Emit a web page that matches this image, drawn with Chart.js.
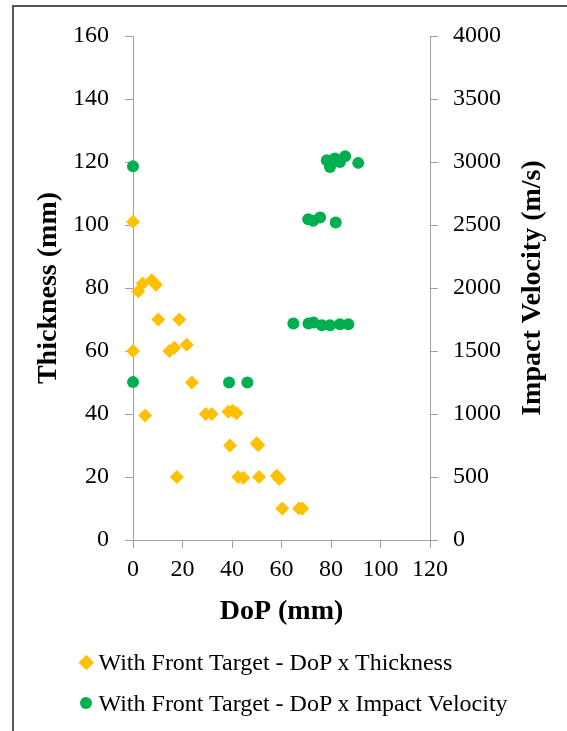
<!DOCTYPE html>
<html>
<head>
<meta charset="utf-8">
<title>DoP vs Thickness and Impact Velocity</title>
<script src="https://cdn.jsdelivr.net/npm/chart.js@4.4.1/dist/chart.umd.min.js"></script>
<style>
  html, body { margin: 0; padding: 0; background: #fff; overflow: hidden; width: 567px; height: 731px; }
  #frame { position: absolute; left: 12px; top: 5px; width: 700px; height: 800px; border: 2px solid #555; box-sizing: border-box; }
  #plot { position: absolute; left: 0; top: 0; }
  #legend { position: absolute; left: 78.5px; top: 648px; font-family: 'Liberation Serif', 'Times New Roman', serif; font-size: 24px; color: #000; }
  .row { display: flex; align-items: center; height: 28px; line-height: 28px; white-space: nowrap; }
  .row + .row { margin-top: 13px; }
  .mark { position: relative; flex: none; width: 15px; height: 15px; margin-right: 5px; }
  .mark span { position: absolute; display: block; }
  .mark.rectRot span { width: 10.6px; height: 10.6px; left: 2.2px; top: 2.2px; transform: rotate(45deg); }
  .mark.circle span { width: 12px; height: 12px; left: 1.5px; top: 1.5px; border-radius: 50%; }
</style>
</head>
<body>
<div id="frame"></div>
<canvas id="plot" width="567" height="731"></canvas>
<div id="legend"></div>
<script>
// Series names
const seriesNames = [
  'With Front Target - DoP x Thickness',
  'With Front Target - DoP x Impact Velocity'
];

// Depth of penetration (mm) and target thickness (mm)
const dopThickness = [0, 0, 2.1, 3.9, 4.9, 7.6, 9.3, 10.2, 14.7, 16.7, 17.7, 18.7, 21.7, 23.8, 29.4,
                      31.8, 38.5, 39.2, 40.3, 41.9, 42.5, 44.6, 50.0, 50.6, 50.9, 58.1, 59.1, 60.3, 67.1, 68.4];
const thicknessMm  = [101, 60, 79, 81.4, 39.5, 82.5, 81, 70, 60, 61, 20, 70, 62, 50, 40,
                      40, 40.7, 30, 41, 40.2, 20, 19.8, 30.7, 30.1, 20, 20.4, 19.4, 10, 10, 10];

// Depth of penetration (mm) and impact velocity (m/s)
const dopVelocity    = [0, 0, 38.8, 46.2, 64.8, 70.9, 72.9, 76.3, 79.6, 83.6, 87.0,
                        70.8, 72.8, 75.6, 81.9, 78.3, 79.6, 81.6, 83.6, 85.7, 91.0];
const impactVelocity = [2966, 1253, 1250, 1250, 1719, 1719, 1727, 1705, 1705, 1713, 1713,
                        2546, 2533, 2559, 2520, 3014, 2961, 3027, 3000, 3046, 2993];

// Tick values
const dopTickValues       = [0, 20, 40, 60, 80, 100, 120];
const thicknessTickValues = [0, 20, 40, 60, 80, 100, 120, 140, 160];
const velocityTickValues  = [0, 500, 1000, 1500, 2000, 2500, 3000, 3500, 4000];

const SERIF = "'Liberation Serif', 'Times New Roman', serif";
const GOLD = '#FFC000';
const GREEN = '#00B050';
const AXIS = '#a0a0a0';

const toPoints = (xs, ys) => xs.map((x, i) => ({ x: x, y: ys[i] }));
const fixedTicks = values => scale => { scale.ticks = values.map(v => ({ value: v })); };
const plainLabel = v => String(v);

const tickFont = { family: SERIF, size: 24 };
const titleFont = { family: SERIF, size: 28, weight: 'bold' };

// The right-hand axis title reads bottom-to-top, like the left one
const uprightRightTitle = {
  id: 'uprightRightTitle',
  afterDraw(chart, args, opts) {
    const scale = chart.scales[opts.axis];
    if (!scale) return;
    const ctx = chart.ctx;
    const lineHeight = opts.font.size * 1.2;
    const x = scale.right - lineHeight / 2 - opts.padding;
    const y = (scale.top + scale.bottom) / 2;
    ctx.save();
    ctx.translate(x, y);
    ctx.rotate(-Math.PI / 2);
    ctx.font = `${opts.font.weight} ${opts.font.size}px ${opts.font.family}`;
    ctx.fillStyle = opts.color;
    ctx.textAlign = 'center';
    ctx.textBaseline = 'middle';
    ctx.fillText(opts.text, 0, 0);
    ctx.restore();
  }
};

const chart = new Chart(document.getElementById('plot'), {
  type: 'scatter',
  data: {
    datasets: [
      {
        label: seriesNames[0],
        data: toPoints(dopThickness, thicknessMm),
        yAxisID: 'y',
        pointStyle: 'rectRot',
        pointRadius: 7,
        pointHoverRadius: 7,
        backgroundColor: GOLD,
        borderColor: GOLD,
        borderWidth: 0,
        clip: false
      },
      {
        label: seriesNames[1],
        data: toPoints(dopVelocity, impactVelocity),
        yAxisID: 'y1',
        pointStyle: 'circle',
        pointRadius: 6,
        pointHoverRadius: 6,
        backgroundColor: GREEN,
        borderColor: GREEN,
        borderWidth: 0,
        clip: false
      }
    ]
  },
  options: {
    responsive: false,
    animation: false,
    events: [],
    layout: { padding: { top: 36, bottom: 91, left: 0, right: 0 } },
    plugins: {
      legend: { display: false },
      tooltip: { enabled: false },
      uprightRightTitle: { axis: 'y1', text: 'Impact Velocity (m/s)', font: titleFont, color: '#000', padding: 17 }
    },
    scales: {
      x: {
        type: 'linear',
        min: 0, max: 120,
        afterBuildTicks: fixedTicks(dopTickValues),
        afterFit: s => { s.height = 100; },
        grid: { display: true, drawOnChartArea: false, drawTicks: true, tickLength: 8, color: AXIS },
        border: { display: true, color: AXIS, width: 1 },
        ticks: { font: tickFont, color: '#000', padding: 7, maxRotation: 0, autoSkip: false, callback: plainLabel },
        title: { display: true, text: 'DoP (mm)', font: titleFont, color: '#000', padding: { top: 0, bottom: 11 } }
      },
      y: {
        type: 'linear',
        position: 'left',
        min: 0, max: 160,
        afterBuildTicks: fixedTicks(thicknessTickValues),
        afterFit: s => { s.width = 133; },
        grid: { display: true, drawOnChartArea: false, drawTicks: true, tickLength: 8, color: AXIS },
        border: { display: true, color: AXIS, width: 1 },
        ticks: { font: tickFont, color: '#000', padding: 16, autoSkip: false, callback: plainLabel },
        title: { display: true, text: 'Thickness (mm)', font: titleFont, color: '#000', padding: { top: 32, bottom: 0 } }
      },
      y1: {
        type: 'linear',
        position: 'right',
        min: 0, max: 4000,
        afterBuildTicks: fixedTicks(velocityTickValues),
        afterFit: s => { s.width = 137; },
        grid: { display: true, drawOnChartArea: false, drawTicks: true, tickLength: 8, color: AXIS },
        border: { display: true, color: AXIS, width: 1 },
        ticks: { font: tickFont, color: '#000', padding: 15, autoSkip: false, callback: plainLabel },
        title: { display: false }
      }
    }
  },
  plugins: [uprightRightTitle]
});

// Legend rows built from the chart's datasets
const legendBox = document.getElementById('legend');
chart.data.datasets.forEach(ds => {
  const row = document.createElement('div');
  row.className = 'row';
  const mark = document.createElement('div');
  mark.className = 'mark ' + ds.pointStyle;
  const swatch = document.createElement('span');
  swatch.style.background = ds.backgroundColor;
  mark.appendChild(swatch);
  const text = document.createElement('span');
  text.textContent = ds.label;
  row.appendChild(mark);
  row.appendChild(text);
  legendBox.appendChild(row);
});
</script>
</body>
</html>
